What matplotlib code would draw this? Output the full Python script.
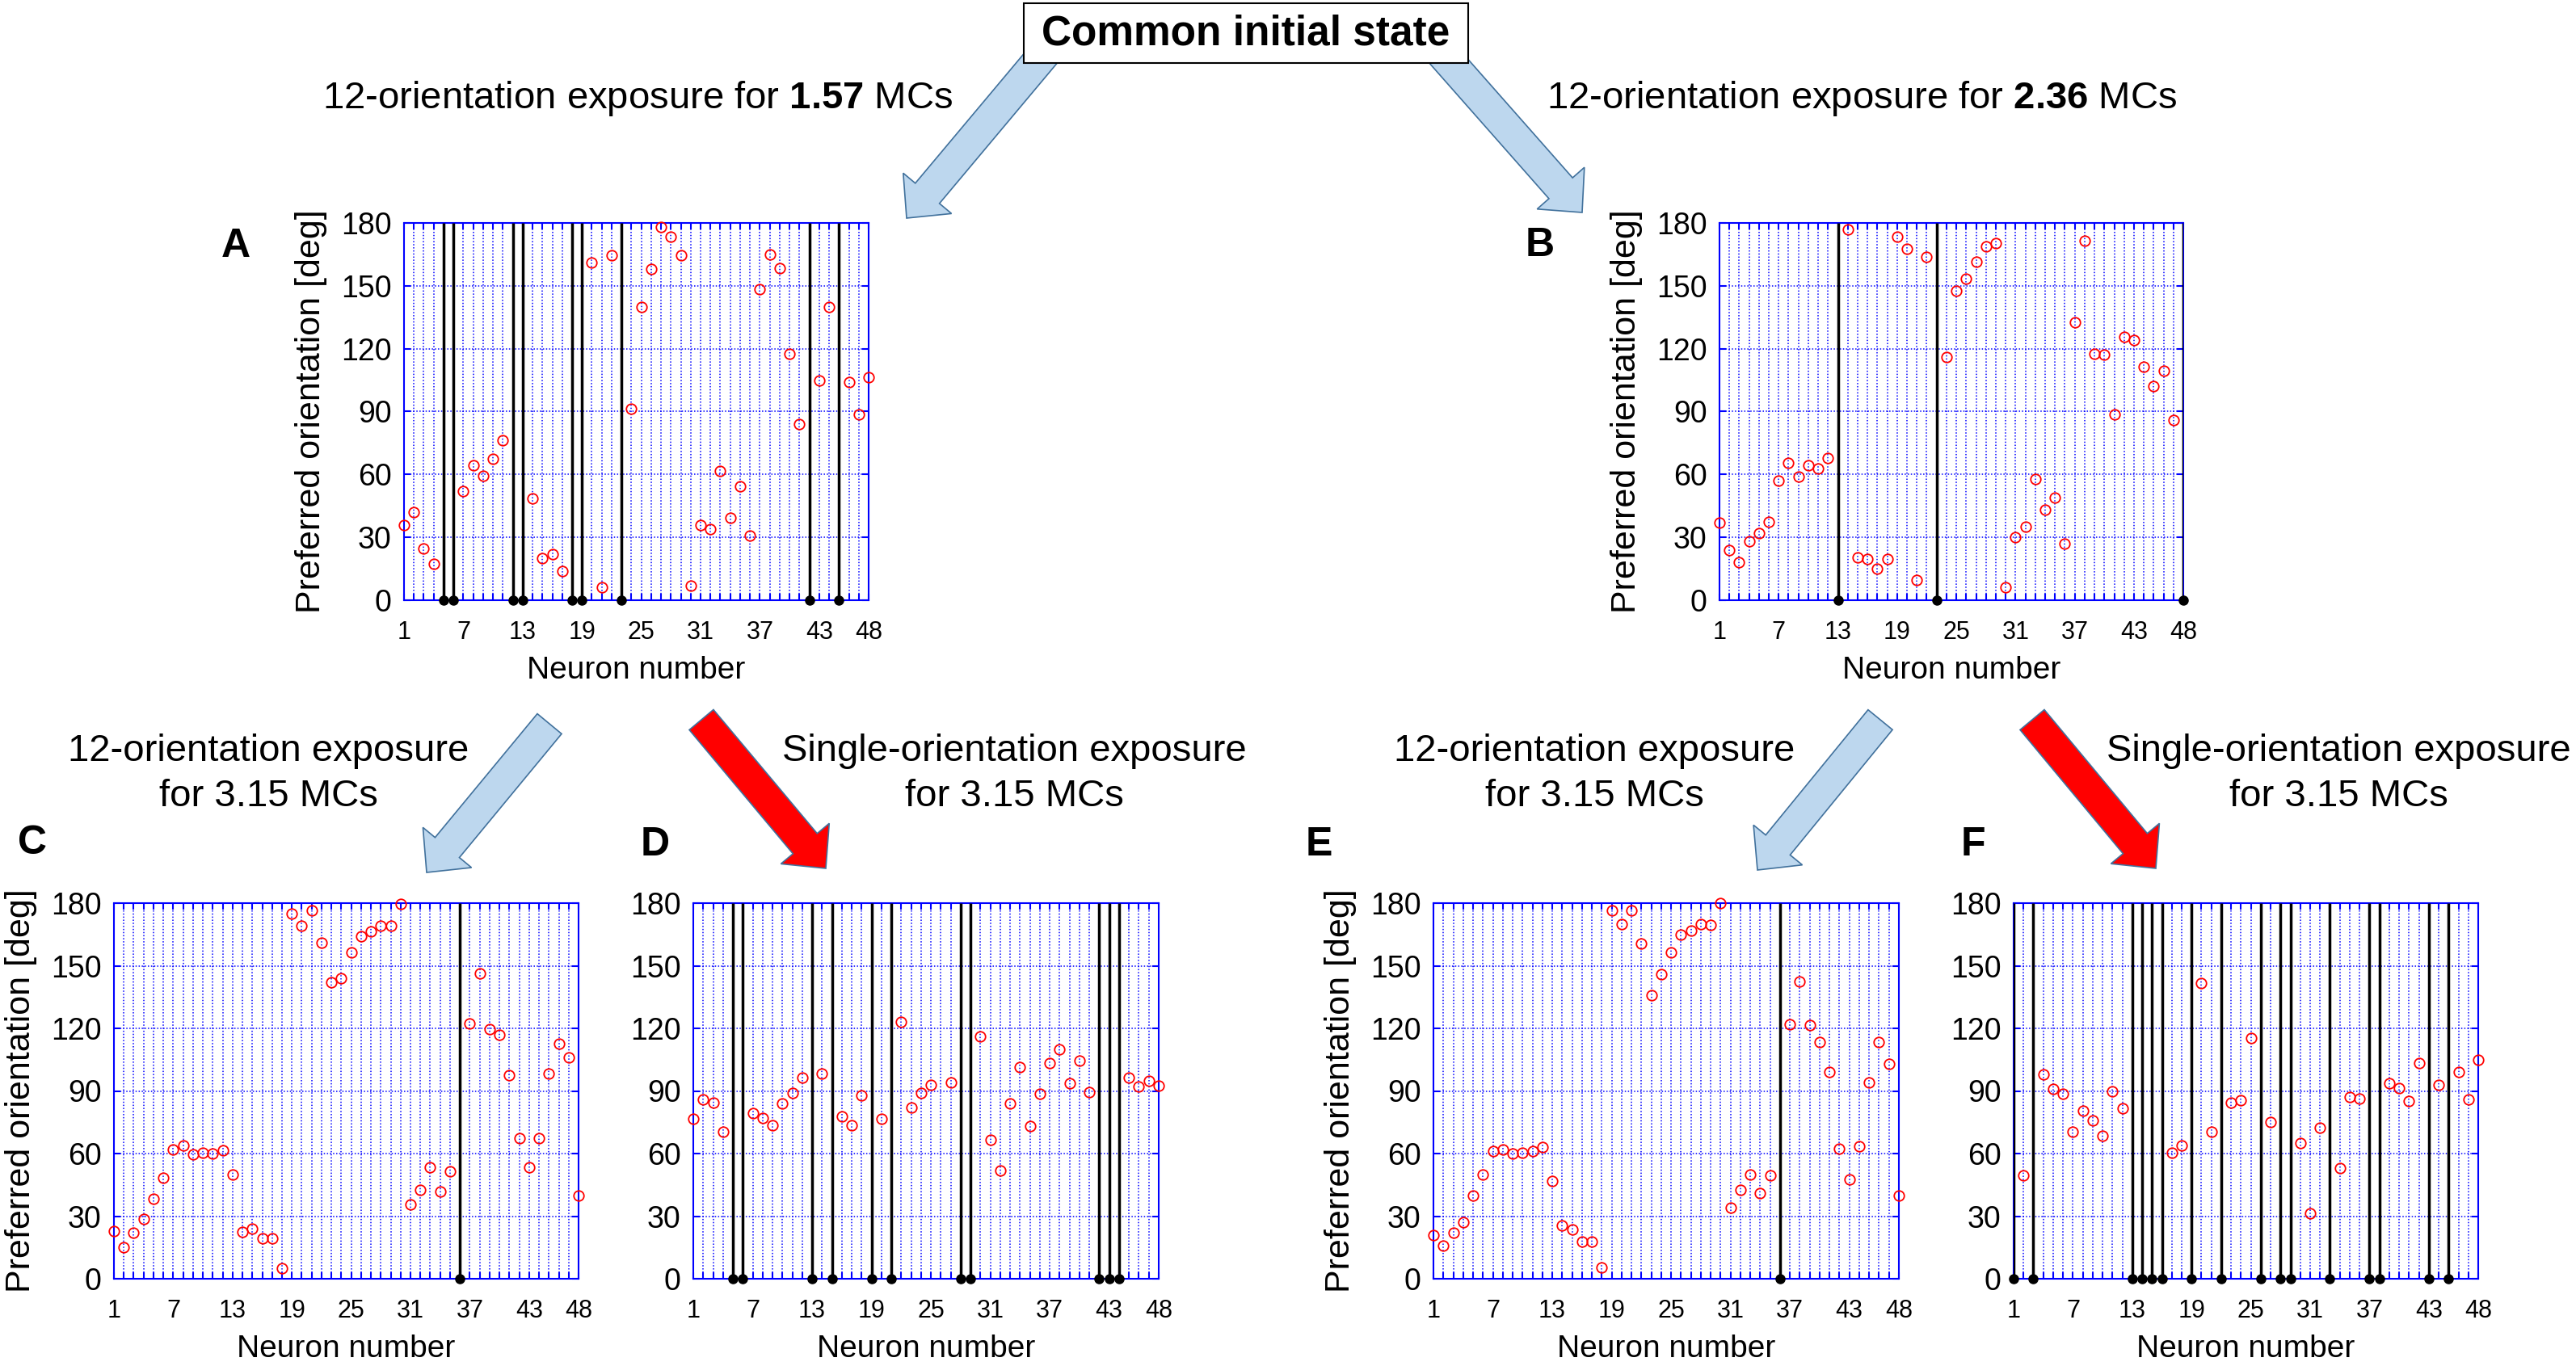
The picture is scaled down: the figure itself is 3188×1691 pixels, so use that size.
import numpy as np
import matplotlib
matplotlib.use('Agg')
import matplotlib.pyplot as plt
from matplotlib.patches import FancyArrow, Rectangle

plt.rcParams['font.family'] = ['Liberation Sans', 'DejaVu Sans']
plt.rcParams['mathtext.fontset'] = 'custom'
plt.rcParams['mathtext.rm'] = 'Liberation Sans'
plt.rcParams['mathtext.bf'] = 'Liberation Sans:bold'

W, H = 3188, 1691
nan = np.nan

neurons = np.arange(1, 49)
xtick_shown = [1, 7, 13, 19, 25, 31, 37, 43, 48]
ytick_values = [0, 30, 60, 90, 120, 150, 180]

# preferred orientation [deg] per neuron, nan = no point
pref_A = [36, 42, 24.5, 17.5, nan, nan, 52, 64.5, 59.5, 67.5, 76.5, nan,
          nan, 48.5, 20, 22, 14, nan, nan, 161, 6, 164.5, nan, 91.5,
          140, 158, 178, 173.5, 164.5, 7, 36, 34, 61.5, 39.5, 54.5, 31,
          148.5, 165, 158.5, 117.5, 84, nan, 105, 140, nan, 104, 88.5, 106.5]
dead_A = [5, 6, 12, 13, 18, 19, 23, 42, 45]

pref_B = [37, 24, 18, 28, 32, 37.5, 57, 65.5, 59, 64.5, 63, 68,
          nan, 177, 20.5, 19.5, 15, 19.5, 173.5, 167.5, 9.5, 164, nan, 116,
          147.5, 153.5, 161.5, 169, 170.5, 6, 30, 35, 58, 43, 49, 27,
          132.5, 171.5, 117.5, 117, 88.5, 125.5, 124, 111.5, 102, 109.5, 86, nan]
dead_B = [13, 23, 48]

pref_C = [23, 15, 22, 28.5, 38.5, 48.5, 62, 64, 59.5, 60.5, 60, 61.5,
          50, 22.5, 24, 19.5, 19.5, 5, 175, 169, 176.5, 161, 142, 144,
          156.5, 164, 166.5, 169, 169, 179.5, 35.5, 42.5, 53.5, 42, 51.5, nan,
          122.5, 146.5, 119.5, 117, 97.5, 67.5, 53.5, 67.5, 98.5, 112.5, 106, 40]
dead_C = [36]

pref_D = [76.5, 86, 84.5, 70.5, nan, nan, 79.5, 77, 73.5, 84, 89, 96.5,
          nan, 98.5, nan, 78, 73.5, 88, nan, 76.5, nan, 123, 82, 89,
          93, nan, 94, nan, nan, 116, 66.5, 52, 84, 101.5, 73, 88.5,
          103.5, 110, 93.5, 104.5, 89.5, nan, nan, nan, 96.5, 92, 95, 92.5]
dead_D = [5, 6, 13, 15, 19, 21, 28, 29, 42, 43, 44]

pref_E = [21, 16, 22, 27, 40, 50, 61, 62, 60, 60.5, 61, 63,
          47, 25.5, 23.5, 18, 18, 5.5, 176.5, 170, 176.5, 160.5, 136, 146,
          156.5, 165, 167, 170, 169.5, 180, 34, 42.5, 50, 41, 49.5, nan,
          122, 142.5, 121.5, 113.5, 99, 62.5, 47.5, 63.5, 94, 113.5, 103, 40]
dead_E = [36]

pref_F = [nan, 49.5, nan, 98, 91, 88.5, 70.5, 80.5, 76, 68.5, 90, 81.5,
          nan, nan, nan, nan, 60.5, 64, nan, 141.5, 70.5, nan, 84.5, 85.5,
          115.5, nan, 75, nan, nan, 65, 31.5, 72.5, nan, 53, 87, 86.5,
          nan, nan, 93.5, 91.5, 85, 103.5, nan, 93, nan, 99, 86, 105]
dead_F = [1, 3, 13, 14, 15, 16, 19, 22, 26, 28, 29, 33, 37, 38, 43, 45]

fig = plt.figure(figsize=(W / 100, H / 100), dpi=100)

# overlay in pixel coordinates for arrows and captions
ov = fig.add_axes([0, 0, 1, 1])
ov.set_xlim(0, W)
ov.set_ylim(H, 0)
ov.axis('off')

BLUE_FILL = '#BDD7EE'
EDGE = '#41719C'


def arrow(tail, tip, fill):
    dx, dy = tip[0] - tail[0], tip[1] - tail[1]
    ov.add_patch(FancyArrow(tail[0], tail[1], dx, dy, width=39, head_width=78,
                            head_length=40, length_includes_head=True,
                            facecolor=fill, edgecolor=EDGE, linewidth=1.2, zorder=1))


arrow((1298, 60), (1122, 270), BLUE_FILL)
arrow((1779, 60), (1958, 263), BLUE_FILL)
arrow((680, 896), (528, 1080), BLUE_FILL)
arrow((868, 891), (1022, 1075), 'red')
arrow((2327, 891), (2175, 1077), BLUE_FILL)
arrow((2515, 891), (2668, 1075), 'red')

ov.add_patch(Rectangle((1267, 4), 550, 74, facecolor='white', edgecolor='black',
                       linewidth=1.5, zorder=2))
ov.text(1542, 42, 'Common initial state', fontsize=37, fontweight='bold',
        ha='center', va='center', zorder=3)

ov.text(789, 122, r'12-orientation exposure for $\mathbf{1.57}$ MCs', fontsize=34,
        ha='center', va='center')
ov.text(2304, 122, r'12-orientation exposure for $\mathbf{2.36}$ MCs', fontsize=34,
        ha='center', va='center')

for x, first in [(332, '12-orientation exposure'), (1255, 'Single-orientation exposure'),
                 (1973, '12-orientation exposure'), (2894, 'Single-orientation exposure')]:
    ov.text(x, 942, first, fontsize=34, ha='center', va='baseline')
    ov.text(x, 998, 'for 3.15 MCs', fontsize=34, ha='center', va='baseline')

for letter, x, y in [('A', 292, 305), ('B', 1906, 304), ('C', 40, 1044),
                     ('D', 811, 1046), ('E', 1632, 1046), ('F', 2442, 1046)]:
    ov.text(x, y, letter, fontsize=36, fontweight='bold', ha='center', va='center')


def panel(box, values, dead, ylabel):
    left, right, top, bottom = box
    ax = fig.add_axes([left / W, 1 - bottom / H, (right - left) / W, (bottom - top) / H])
    ax.set_xlim(1, 48)
    ax.set_ylim(0, 180)
    ax.set_xticks(neurons)
    ax.set_xticklabels([str(n) if n in xtick_shown else '' for n in neurons])
    ax.set_yticks(ytick_values)
    ax.grid(True, color='blue', linestyle=(0, (1, 1.5)), linewidth=1.1)
    ax.tick_params(direction='in', top=True, right=True, color='blue',
                   length=6, width=1.5)
    ax.tick_params(axis='x', labelsize=22, pad=18)
    ax.tick_params(axis='y', labelsize=27, pad=11)
    for s in ax.spines.values():
        s.set_color('blue')
        s.set_linewidth(1.5)
    ax.vlines(dead, 0, 180, color='black', linewidth=2.5, zorder=3)
    ax.plot(dead, np.zeros(len(dead)), 'o', color='black', ms=8,
            clip_on=False, zorder=4)
    ax.plot(neurons, values, 'o', mfc='none', mec='red', ms=9, mew=1.3,
            clip_on=False, zorder=5)
    ax.set_xlabel('Neuron number', fontsize=28, labelpad=10)
    if ylabel:
        ax.set_ylabel('Preferred orientation [deg]', fontsize=31, labelpad=12)
    return ax


panel((500, 1075, 276, 743), pref_A, dead_A, True)
panel((2128, 2702, 276, 743), pref_B, dead_B, True)
panel((141, 716, 1118, 1583), pref_C, dead_C, True)
panel((858, 1434, 1118, 1583), pref_D, dead_D, False)
panel((1774, 2350, 1118, 1583), pref_E, dead_E, True)
panel((2492, 3067, 1118, 1583), pref_F, dead_F, False)

fig.savefig('out.png', dpi=100)
